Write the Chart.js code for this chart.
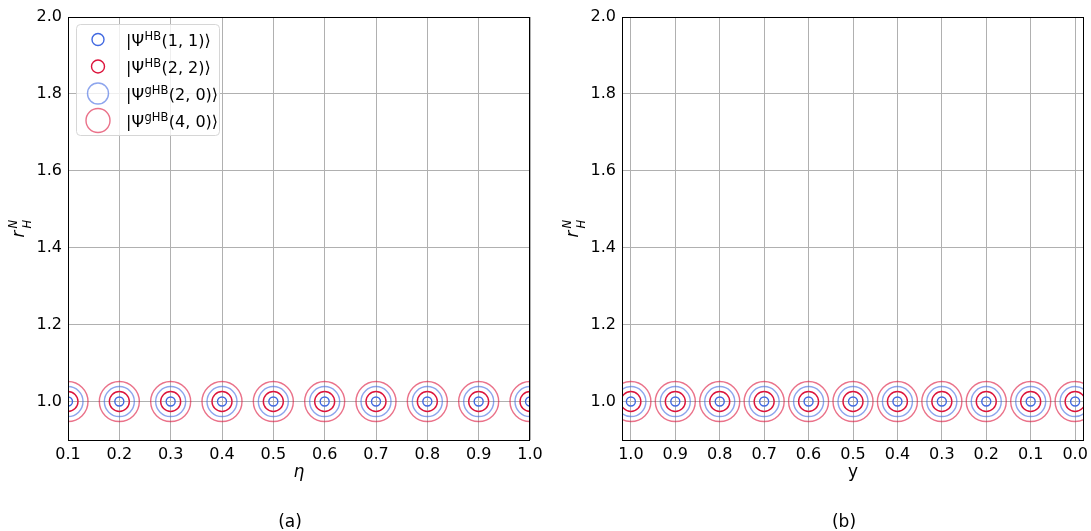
<!DOCTYPE html>
<html>
<head>
<meta charset="utf-8">
<script src="https://cdn.jsdelivr.net/npm/chart.js@4/dist/chart.umd.min.js"></script>
<style>
  html, body { margin: 0; padding: 0; background: #fff; overflow: hidden; width: 1091px; height: 531px; }
  #wrap { position: relative; width: 1091px; height: 531px; overflow: hidden; }
  canvas { position: absolute; top: 0; }
  #panelA { left: 0; }
  #panelB { left: 545px; }
</style>
</head>
<body>
<div id="wrap">
  <canvas id="panelA" width="545" height="531"></canvas>
  <canvas id="panelB" width="560" height="531"></canvas>
</div>
<script>
// ---- data ----
const ETA = [0.1, 0.2, 0.3, 0.4, 0.5, 0.6, 0.7, 0.8, 0.9, 1.0];
const Y_PARAM = [1.0, 0.9, 0.8, 0.7, 0.6, 0.5, 0.4, 0.3, 0.2, 0.1, 0.0];

// r_H^N versus eta, panel (a)
const RHN_A_HB11  = [1.0, 1.0, 1.0, 1.0, 1.0, 1.0, 1.0, 1.0, 1.0, 1.0];
const RHN_A_HB22  = [1.0, 1.0, 1.0, 1.0, 1.0, 1.0, 1.0, 1.0, 1.0, 1.0];
const RHN_A_GHB20 = [1.0, 1.0, 1.0, 1.0, 1.0, 1.0, 1.0, 1.0, 1.0, 1.0];
const RHN_A_GHB40 = [1.0, 1.0, 1.0, 1.0, 1.0, 1.0, 1.0, 1.0, 1.0, 1.0];

// r_H^N versus y, panel (b)
const RHN_B_HB11  = [1.0, 1.0, 1.0, 1.0, 1.0, 1.0, 1.0, 1.0, 1.0, 1.0, 1.0];
const RHN_B_HB22  = [1.0, 1.0, 1.0, 1.0, 1.0, 1.0, 1.0, 1.0, 1.0, 1.0, 1.0];
const RHN_B_GHB20 = [1.0, 1.0, 1.0, 1.0, 1.0, 1.0, 1.0, 1.0, 1.0, 1.0, 1.0];
const RHN_B_GHB40 = [1.0, 1.0, 1.0, 1.0, 1.0, 1.0, 1.0, 1.0, 1.0, 1.0, 1.0];

const Y_TICKS   = [1.0, 1.2, 1.4, 1.6, 1.8, 2.0];
const X_TICKS_A = [0.1, 0.2, 0.3, 0.4, 0.5, 0.6, 0.7, 0.8, 0.9, 1.0];
const X_TICKS_B = [1.0, 0.9, 0.8, 0.7, 0.6, 0.5, 0.4, 0.3, 0.2, 0.1, 0.0];

const LEGEND_SUP  = ['HB', 'HB', 'gHB', 'gHB'];
const LEGEND_ARGS = ['(1, 1)', '(2, 2)', '(2, 0)', '(4, 0)'];

// ---- styling ----
const FONT = '"DejaVu Sans", "Liberation Sans", sans-serif';
const STYLES = [
  { color: 'rgb(65,105,225)',      radius: 4.5, legendRadius: 6 },
  { color: 'rgb(220,20,60)',       radius: 10,  legendRadius: 6.5 },
  { color: 'rgba(65,105,225,0.6)', radius: 15,  legendRadius: 10.5 },
  { color: 'rgba(220,20,60,0.6)',  radius: 20,  legendRadius: 12 }
];

function makeDatasets(xs, seriesList) {
  return seriesList.map((ys, k) => ({
    label: LEGEND_SUP[k] + LEGEND_ARGS[k],
    data: xs.map((x, i) => ({ x: x, y: ys[i] })),
    pointStyle: 'circle',
    pointRadius: STYLES[k].radius,
    pointBorderWidth: 1.4,
    pointBorderColor: STYLES[k].color,
    pointBackgroundColor: 'rgba(0,0,0,0)',
    showLine: false,
    clip: 0
  }));
}

// frame, axis titles, panel tag
const decorations = {
  id: 'decorations',
  afterDraw(chart, args, opts) {
    const ctx = chart.ctx;
    const a = chart.chartArea;
    ctx.save();
    // frame
    ctx.strokeStyle = '#000';
    ctx.lineWidth = 1;
    ctx.strokeRect(Math.round(a.left) + 0.5, Math.round(a.top) + 0.5,
                   Math.round(a.right - a.left) - 1, Math.round(a.bottom - a.top));
    const cx = (a.left + a.right) / 2;
    ctx.fillStyle = '#000';
    ctx.textAlign = 'center';
    ctx.textBaseline = 'alphabetic';
    // x axis title
    ctx.font = (opts.xItalic ? 'italic ' : '') + '17px ' + FONT;
    ctx.fillText(opts.xTitle, cx, 477);
    // panel tag
    ctx.font = '17px ' + FONT;
    ctx.fillText(opts.tag, cx - 9, 527);
    // y axis title r_H^N, rotated
    ctx.translate(a.left - 44, (a.top + a.bottom) / 2);
    ctx.rotate(-Math.PI / 2);
    ctx.textAlign = 'left';
    ctx.font = 'italic 17px ' + FONT;
    ctx.fillText('r', -9, 0);
    ctx.font = 'italic 11.5px ' + FONT;
    ctx.fillText('N', 0, -7);
    ctx.fillText('H', 0, 7);
    ctx.restore();
  }
};

// legend with per-series marker sizes and superscripts
const stateLegend = {
  id: 'stateLegend',
  afterDraw(chart, args, opts) {
    if (!opts.show) return;
    const ctx = chart.ctx;
    ctx.save();
    const bx = 76.5, by = 24.5, bw = 143, bh = 111, r = 4;
    ctx.beginPath();
    ctx.moveTo(bx + r, by);
    ctx.arcTo(bx + bw, by, bx + bw, by + bh, r);
    ctx.arcTo(bx + bw, by + bh, bx, by + bh, r);
    ctx.arcTo(bx, by + bh, bx, by, r);
    ctx.arcTo(bx, by, bx + bw, by, r);
    ctx.closePath();
    ctx.fillStyle = 'rgba(255,255,255,0.8)';
    ctx.fill();
    ctx.strokeStyle = '#d6d6d6';
    ctx.lineWidth = 1;
    ctx.stroke();

    ctx.textAlign = 'left';
    ctx.textBaseline = 'alphabetic';
    for (let k = 0; k < LEGEND_SUP.length; k++) {
      const cy = 39.5 + k * 27;
      ctx.beginPath();
      ctx.arc(98, cy, STYLES[k].legendRadius, 0, Math.PI * 2);
      ctx.strokeStyle = STYLES[k].color;
      ctx.lineWidth = 1.4;
      ctx.stroke();

      ctx.fillStyle = '#000';
      let x = 126;
      const base = cy + 6;
      ctx.font = '16px ' + FONT;
      ctx.fillText('|Ψ', x, base);
      x += ctx.measureText('|Ψ').width + 0.5;
      ctx.font = '11.5px ' + FONT;
      ctx.fillText(LEGEND_SUP[k], x, base - 6);
      x += ctx.measureText(LEGEND_SUP[k]).width + 0.5;
      ctx.font = '16px ' + FONT;
      ctx.fillText(LEGEND_ARGS[k] + '⟩', x, base);
    }
    ctx.restore();
  }
};

function makeOptions(cfg) {
  const tickFont = { family: FONT, size: 16 };
  return {
    responsive: false,
    animation: false,
    devicePixelRatio: 1,
    layout: { autoPadding: false, padding: { top: 17, right: cfg.rightPad, left: 0, bottom: 0 } },
    plugins: {
      legend: { display: false },
      tooltip: { enabled: false },
      decorations: { xTitle: cfg.xTitle, xItalic: cfg.xItalic, tag: cfg.tag },
      stateLegend: { show: cfg.legend }
    },
    scales: {
      x: {
        type: 'linear',
        min: cfg.xMin,
        max: cfg.xMax,
        reverse: cfg.reverse,
        afterBuildTicks: s => { s.ticks = cfg.xTicks.map(v => ({ value: v })); },
        afterFit: s => { s.height = 91; s.paddingLeft = 0; s.paddingRight = 0; },
        grid: { color: '#b0b0b0', lineWidth: 1, drawTicks: false },
        border: { display: false },
        ticks: { padding: 5, color: '#000', font: tickFont, autoSkip: false,
                 maxRotation: 0, minRotation: 0, callback: v => Number(v).toFixed(1) }
      },
      y: {
        type: 'linear',
        min: 0.9,
        max: 2.0,
        afterBuildTicks: s => { s.ticks = Y_TICKS.map(v => ({ value: v })); },
        afterFit: s => { s.width = cfg.yWidth; s.paddingTop = 0; s.paddingBottom = 0; },
        grid: { color: '#b0b0b0', lineWidth: 1, drawTicks: false },
        border: { display: false },
        ticks: { padding: 6, color: '#000', font: tickFont, callback: v => Number(v).toFixed(1) }
      }
    }
  };
}

new Chart(document.getElementById('panelA'), {
  type: 'scatter',
  data: { datasets: makeDatasets(ETA, [RHN_A_HB11, RHN_A_HB22, RHN_A_GHB20, RHN_A_GHB40]) },
  options: makeOptions({ xTicks: X_TICKS_A, xMin: 0.1, xMax: 1.0, reverse: false, rightPad: 15,
                         yWidth: 68, xTitle: 'η', xItalic: true, tag: '(a)', legend: true }),
  plugins: [decorations, stateLegend]
});

new Chart(document.getElementById('panelB'), {
  type: 'scatter',
  data: { datasets: makeDatasets(Y_PARAM, [RHN_B_HB11, RHN_B_HB22, RHN_B_GHB20, RHN_B_GHB40]) },
  options: makeOptions({ xTicks: X_TICKS_B, xMin: -0.02, xMax: 1.02, reverse: true, rightPad: 21,
                         yWidth: 77, xTitle: 'y', xItalic: false, tag: '(b)', legend: false }),
  plugins: [decorations, stateLegend]
});
</script>
</body>
</html>
